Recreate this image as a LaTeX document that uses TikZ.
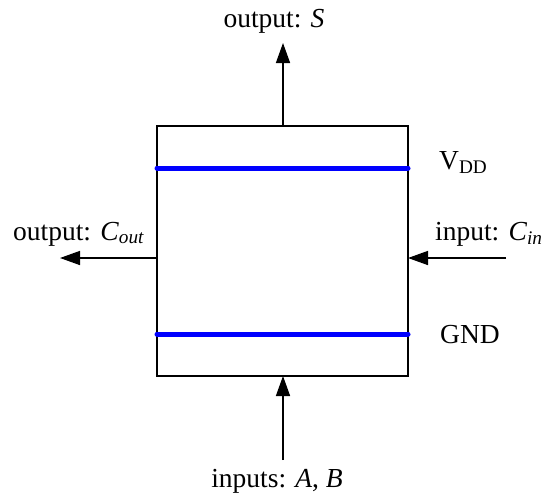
\documentclass[tikz,border=0pt]{standalone}
\usepackage{fontspec}
\setmainfont{Liberation Serif}
\usetikzlibrary{arrows.meta}
\begin{document}
\begin{tikzpicture}[x=1pt,y=-1pt,
  lbl/.style={inner sep=0pt,font=\fontsize{27.5}{32}\selectfont},
  sig/.style={line width=1.5pt,-{Triangle[length=20pt,width=14pt]}},
  rail/.style={line width=5pt,draw={rgb,255:red,0;green,0;blue,255},line cap=round}]
\useasboundingbox (0,0) rectangle (543,498);
% box
\draw[line width=2.5pt] (157,126) rectangle (408,376);
\coordinate (boxT) at (283,126);
\coordinate (boxB) at (283,376);
\coordinate (boxL) at (157,258);
\coordinate (boxR) at (408,258);
% rails
\coordinate (vddL) at (157,168);
\coordinate (vddR) at (408,168);
\coordinate (gndL) at (157,334);
\coordinate (gndR) at (408,334);
\draw[rail] (vddL) -- (vddR);
\draw[rail] (gndL) -- (gndR);
\node[lbl,anchor=base west] (vdd) at (439,169) {V\textsubscript{DD}};
\node[lbl,anchor=base west] (gnd) at (440,343) {GND};
% signals
\coordinate (sTip) at (283,43);
\draw[sig] (boxT) -- (sTip);
\node[lbl,anchor=base] (sLbl) at (274,27) {output: \textit{S}};
\coordinate (coutTip) at (60,258);
\draw[sig] (boxL) -- (coutTip);
\node[lbl,anchor=base west] (coutLbl) at (13,240) {output: \textit{C}\textsubscript{\textit{out}}};
\coordinate (cinTail) at (506,258);
\draw[sig] (cinTail) -- (boxR);
\node[lbl,anchor=base west] (cinLbl) at (435,240) {input: \textit{C}\textsubscript{\textit{in}}};
\coordinate (abTail) at (283,460);
\draw[sig] (abTail) -- (boxB);
\node[lbl,anchor=base] (abLbl) at (277,487) {inputs: \textit{A}, \textit{B}};
\end{tikzpicture}
\end{document}
